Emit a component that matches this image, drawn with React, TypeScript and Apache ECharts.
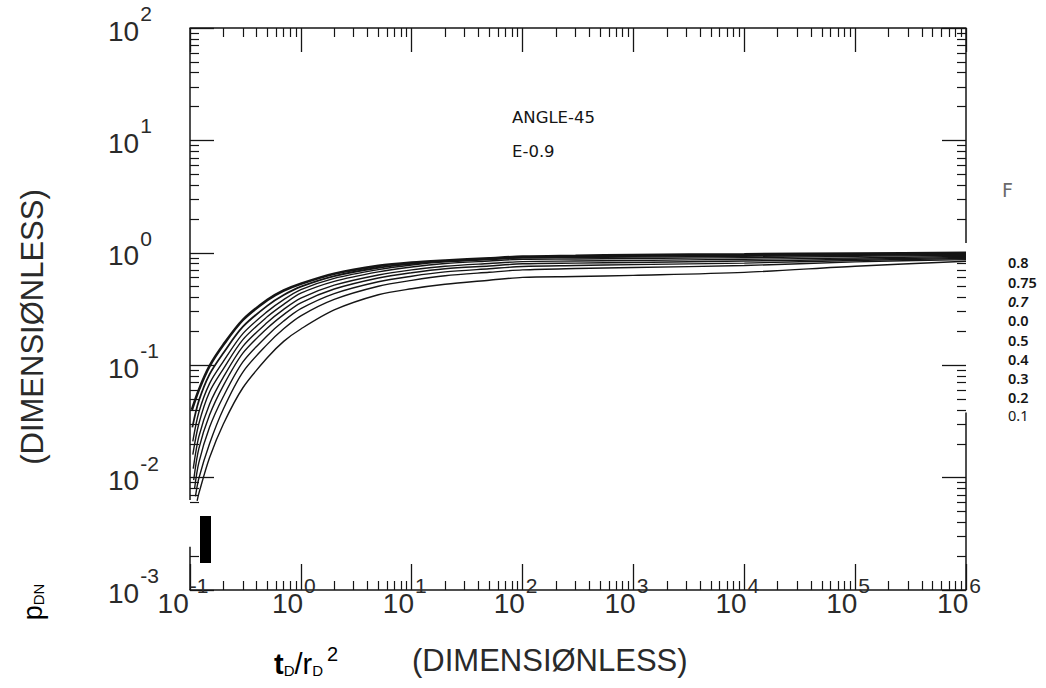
import React, { useEffect, useRef } from "react";
import * as echarts from "echarts";

// ---------- data ----------
const X_DECADES = [0.1, 1, 10, 100, 1000, 10000, 100000, 1000000];
const Y_DECADES = [0.001, 0.01, 0.1, 1, 10, 100];
const MINOR_STEPS = [2, 3, 4, 5, 6, 7, 8, 9];

const T = [0.12, 0.15, 0.2, 0.3, 0.5, 0.7, 1, 2, 5, 10, 20, 50, 100, 300, 1000, 1e4, 1e5, 1e6];

const F_LABELS = ["0.8", "0.75", "0.7", "0.0", "0.5", "0.4", "0.3", "0.2", "0.1"];
const START_T = [0.104, 0.105, 0.106, 0.106, 0.107, 0.108, 0.11, 0.112, 0.116];
const START_P = [0.04, 0.028, 0.021, 0.016, 0.012, 0.0095, 0.008, 0.0068, 0.0062];

const P_F080 = [0.06, 0.098, 0.152, 0.253, 0.381, 0.462, 0.531, 0.652, 0.765, 0.82, 0.855, 0.895, 0.925, 0.94, 0.955, 0.97, 0.985, 1.0];
const P_F075 = [0.048, 0.083, 0.1285, 0.22, 0.339, 0.421, 0.5, 0.621, 0.736, 0.798, 0.843, 0.883, 0.912, 0.925, 0.935, 0.95, 0.965, 0.98];
const P_F070 = [0.038, 0.0686, 0.108, 0.191, 0.301, 0.383, 0.47, 0.592, 0.708, 0.778, 0.83, 0.871, 0.902, 0.905, 0.915, 0.93, 0.95, 0.965];
const P_F000 = [0.03, 0.0578, 0.0929, 0.169, 0.271, 0.348, 0.437, 0.557, 0.676, 0.748, 0.802, 0.845, 0.875, 0.88, 0.89, 0.905, 0.93, 0.95];
const P_F050 = [0.023, 0.045, 0.0782, 0.147, 0.241, 0.314, 0.395, 0.515, 0.635, 0.705, 0.76, 0.804, 0.835, 0.845, 0.855, 0.875, 0.9, 0.93];
const P_F040 = [0.018, 0.036, 0.0659, 0.128, 0.214, 0.282, 0.359, 0.476, 0.597, 0.665, 0.721, 0.764, 0.798, 0.81, 0.82, 0.845, 0.875, 0.91];
const P_F030 = [0.0135, 0.028, 0.0527, 0.107, 0.184, 0.247, 0.318, 0.433, 0.552, 0.619, 0.676, 0.721, 0.755, 0.77, 0.785, 0.81, 0.855, 0.89];
const P_F020 = [0.0098, 0.02, 0.0408, 0.0869, 0.154, 0.211, 0.275, 0.385, 0.504, 0.569, 0.625, 0.671, 0.705, 0.725, 0.74, 0.77, 0.83, 0.87];
const P_F010 = [0.0072, 0.015, 0.03, 0.063, 0.117, 0.163, 0.21, 0.31, 0.423, 0.479, 0.525, 0.57, 0.605, 0.615, 0.63, 0.67, 0.76, 0.84];
const CURVES = [P_F080, P_F075, P_F070, P_F000, P_F050, P_F040, P_F030, P_F020, P_F010];

const FONT = "'Liberation Sans', Arial, sans-serif";
const INK = "#151515";
const LABEL_INK = "#2a2a2a";

function minors(decades: number[]) {
  const out: number[] = [];
  for (let i = 0; i < decades.length - 1; i++) for (const m of MINOR_STEPS) out.push(decades[i] * m);
  return out;
}

const expLabel = (v: number) => `{b|10}{s|${Math.round(Math.log10(v))}}`;

export default function App() {
  const ref = useRef<HTMLDivElement>(null);
  useEffect(() => {
    const chart = echarts.init(ref.current!, null, { renderer: "svg" });
    const xMin = minors(X_DECADES);
    const yMin = minors(Y_DECADES);
    const yMinLeft = yMin.filter((v) => !(v > 0.0025 && v < 0.0055));

    const richLab = {
      b: { fontFamily: FONT, fontSize: 28, color: LABEL_INK, lineHeight: 28, verticalAlign: "bottom" },
      s: { fontFamily: FONT, fontSize: 21, color: LABEL_INK, lineHeight: 42, verticalAlign: "top", padding: [0, 0, 0, 1] },
    };
    const base = {
      type: "log",
      logBase: 10,
      splitLine: { show: false },
      minorTick: { show: false },
    };
    const lineStyle = { color: INK, width: 1.5 };

    const xAxis = [
      {
        ...base, position: "bottom", min: 0.1, max: 1e6,
        axisLine: { show: true, lineStyle },
        axisTick: { show: true, inside: true, length: 26, customValues: X_DECADES, lineStyle: { color: INK, width: 1.3 } },
        axisLabel: { show: true, customValues: X_DECADES, formatter: expLabel, margin: -15, padding: [0, 14, 0, 0], rich: richLab },
      },
      {
        ...base, position: "bottom", min: 0.1, max: 1e6,
        axisLine: { show: false },
        axisTick: { show: true, inside: true, length: 9, customValues: xMin, lineStyle: { color: INK, width: 1.2 } },
        axisLabel: { show: false },
      },
      {
        ...base, position: "top", min: 0.1, max: 1e6,
        axisLine: { show: true, lineStyle },
        axisTick: { show: true, inside: true, length: 24, customValues: X_DECADES, lineStyle: { color: INK, width: 1.3 } },
        axisLabel: { show: false },
      },
      {
        ...base, position: "top", min: 0.1, max: 1e6,
        axisLine: { show: false },
        axisTick: { show: true, inside: true, length: 9, customValues: xMin, lineStyle: { color: INK, width: 1.2 } },
        axisLabel: { show: false },
      },
    ];
    const yAxis = [
      {
        ...base, position: "left", min: 0.001, max: 100,
        axisLine: { show: false },
        axisTick: { show: true, inside: true, length: 24, customValues: Y_DECADES, lineStyle: { color: INK, width: 1.3 } },
        axisLabel: { show: true, customValues: Y_DECADES, formatter: expLabel, margin: 82, align: "left", padding: [0, 0, 8, 0], rich: richLab },
      },
      {
        ...base, position: "left", min: 0.001, max: 100,
        axisLine: { show: false },
        axisTick: { show: true, inside: true, length: 9, customValues: yMinLeft, lineStyle: { color: INK, width: 1.2 } },
        axisLabel: { show: false },
      },
      {
        ...base, position: "right", min: 0.001, max: 100,
        axisLine: { show: false },
        axisTick: { show: true, inside: true, length: 24, customValues: Y_DECADES, lineStyle: { color: INK, width: 1.3 } },
        axisLabel: { show: false },
      },
      {
        ...base, position: "right", min: 0.001, max: 100,
        axisLine: { show: false },
        axisTick: { show: true, inside: true, length: 9, customValues: yMin, lineStyle: { color: INK, width: 1.2 } },
        axisLabel: { show: false },
      },
    ];

    const series = CURVES.map((vals, i) => ({
      type: "line",
      name: F_LABELS[i],
      xAxisIndex: 0,
      yAxisIndex: 0,
      symbol: "none",
      smooth: 0.3,
      lineStyle: { color: INK, width: i === 0 ? 2.6 : i === 1 ? 1.8 : 1.4 },
      data: [[START_T[i], START_P[i]], ...T.map((t, j) => [t, vals[j]])],
    }));

    chart.setOption({
      animation: false,
      backgroundColor: "#ffffff",
      grid: { left: 190, right: 80, top: 28, bottom: 98, outerBoundsMode: "none" },
      xAxis,
      yAxis,
      series,
    });

    const px = (x: number, y: number) => chart.convertToPixel({ seriesIndex: 0 }, [x, y]) as number[];
    const seg = (a: number[], b: number[]) => ({
      type: "line",
      shape: { x1: a[0], y1: a[1], x2: b[0], y2: b[1] },
      style: { stroke: INK, lineWidth: 1.5 },
      silent: true,
    });

    const legendY = [262, 282, 301, 320, 340, 359, 378, 397, 415];
    const graphic: any[] = [
      seg(px(0.1, 100), px(0.1, 0.00633)),
      seg(px(0.1, 0.00242), px(0.1, 0.001)),
      seg(px(1e6, 100), px(1e6, 1.22)),
      seg(px(1e6, 0.038), px(1e6, 0.001)),
      { type: "rect", shape: { x: 200, y: 516, width: 11, height: 47 }, style: { fill: "#000" }, silent: true },
      {
        type: "text", x: 512, y: 109,
        style: { text: "ANGLE-45", font: "16.5px 'DejaVu Sans', sans-serif", fill: INK },
      },
      {
        type: "text", x: 512, y: 143,
        style: { text: "E-0.9", font: "16.5px 'DejaVu Sans', sans-serif", fill: INK },
      },
      {
        type: "text", x: 1002, y: 180,
        style: { text: "F", font: "19px 'DejaVu Sans', sans-serif", fill: "#6a6a6a" },
      },
      ...F_LABELS.map((l, i) => ({
        type: "text", x: 1008, y: legendY[i],
        style: {
          text: l,
          font: `${l === "0.7" ? "italic " : ""}${l === "0.1" ? "" : "600 "}14.5px 'Noto Sans', sans-serif`,
          fill: INK, verticalAlign: "middle",
        },
      })),
      {
        type: "text", x: 274, y: 644,
        style: {
          text: "{t|t}{d|D}{r|/r}{d|D}{e|2}",
          rich: {
            t: { fontFamily: FONT, fontSize: 29, fontWeight: "bold", color: INK, lineHeight: 34, verticalAlign: "bottom" },
            r: { fontFamily: FONT, fontSize: 29, color: INK, lineHeight: 34, verticalAlign: "bottom" },
            d: { fontFamily: FONT, fontSize: 15, color: INK, lineHeight: 34, verticalAlign: "bottom" },
            e: { fontFamily: FONT, fontSize: 20, color: INK, lineHeight: 20, verticalAlign: "top", padding: [0, 0, 0, 4] },
          },
        },
      },
      {
        type: "text", x: 412, y: 645,
        style: { text: "(DIMENSIØNLESS)", font: `31px ${FONT}`, fill: LABEL_INK },
      },
      {
        type: "text", x: 32, y: 327, rotation: Math.PI / 2,
        style: { text: "(DIMENSIØNLESS)", font: `31px ${FONT}`, fill: LABEL_INK, align: "center", verticalAlign: "middle" },
      },
      {
        type: "text", x: 31, y: 602, rotation: Math.PI / 2,
        style: {
          text: "{p|p}{s|DN}", align: "center", verticalAlign: "middle",
          rich: {
            p: { fontFamily: FONT, fontSize: 27, color: INK, lineHeight: 30, verticalAlign: "bottom" },
            s: { fontFamily: FONT, fontSize: 15, color: INK, lineHeight: 30, verticalAlign: "bottom" },
          },
        },
      },
    ];
    chart.setOption({ graphic });

    return () => chart.dispose();
  }, []);

  return (
    <div
      ref={ref}
      style={{ position: "fixed", left: 0, top: 0, width: 1046, height: 688, background: "#fff" }}
    />
  );
}
